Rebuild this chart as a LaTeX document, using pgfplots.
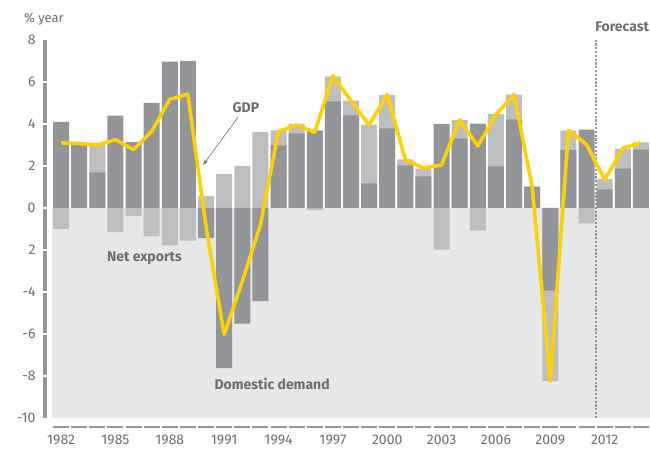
\documentclass[border=0pt]{standalone}
\usepackage{pgfplots}
\pgfplotsset{compat=1.18}
\usepackage{pgfplotstable}
\usepackage{fontspec}
\setmainfont{Fira Sans}
\usetikzlibrary{arrows.meta}
\definecolor{dd}{HTML}{939598}
\definecolor{nx}{HTML}{BCBEC0}
\definecolor{bg}{HTML}{E6E7E8}
\definecolor{gdp}{HTML}{FFD100}
\definecolor{txt}{HTML}{6D6E71}

% dd = domestic demand contribution, nxend = end of the net exports bar (stacked), gdp = GDP growth
\pgfplotstableread{
year dd nxend gdp
1982 4.10 -1.00 3.10
1983 3.02 3.02 3.07
1984 1.70 3.00 3.00
1985 4.40 -1.15 3.25
1986 3.14 -0.37 2.78
1987 5.00 -1.35 3.65
1988 6.97 -1.78 5.18
1989 7.00 -1.55 5.42
1990 -1.44 0.56 -0.88
1991 -7.63 1.62 -6.02
1992 -5.50 2.00 -3.50
1993 -4.44 3.63 -0.80
1994 2.98 3.70 3.65
1995 3.55 4.00 3.95
1996 3.70 -0.10 3.60
1997 5.08 6.27 6.30
1998 4.41 5.11 5.10
1999 1.17 3.97 3.95
2000 3.79 5.38 5.40
2001 2.03 2.32 2.30
2002 1.51 1.87 1.90
2003 4.00 -1.98 2.05
2004 3.32 4.19 4.20
2005 4.02 -1.08 2.95
2006 1.98 4.48 4.45
2007 4.22 5.40 5.40
2008 1.02 1.02 1.00
2009 -3.94 -8.24 -8.25
2010 2.75 3.68 3.70
2011 3.73 -0.73 3.02
2012 0.89 1.37 1.35
2013 1.87 2.83 2.85
2014 2.78 3.13 3.10
}\data

\begin{document}
\begin{tikzpicture}
\path[use as bounding box] (-52pt,-32pt) rectangle (598pt,418pt);
\begin{axis}[
  at={(0,0)}, anchor=south west,
  scale only axis, width=598pt, height=378pt,
  xmin=1981.5, xmax=2014.5, ymin=-10, ymax=8,
  clip=false,
  axis line style={draw=none},
  major tick length=0pt,
  xtick={1982,1985,1988,1991,1994,1997,2000,2003,2006,2009,2012},
  xticklabels={1982,1985,1988,1991,1994,1997,2000,2003,2006,2009,2012},
  ytick={-10,-8,-6,-4,-2,0,2,4,6,8},
  yticklabels={-10,-8,-6,-4,2,0,2,4,6,8},
  /pgf/number format/assume math mode=true,
  tick label style={font=\fontsize{14}{16}\selectfont, text=txt},
  yticklabel style={xshift=-13pt},
  xticklabel style={yshift=-13pt},
]
\fill[bg] (axis cs:1981.5,-10) rectangle (axis cs:2014.5,0);

\addplot[ybar, bar width=16pt, bar shift=0pt, fill=nx, draw=none] table[x=year,y=nxend] {\data};
\addplot[ybar, bar width=16pt, bar shift=0pt, fill=dd, draw=none] table[x=year,y=dd] {\data};

\draw[dd, line width=2pt, dash pattern=on 2.2pt off 1.6pt] (axis cs:2011.5,-10) -- (axis cs:2011.5,8);

\addplot[gdp, line width=3.6pt, no marks, line join=round] table[x=year,y=gdp] {\data};

% y axis bar with gaps
\draw[dd, line width=4.5pt] ([xshift=-7pt]axis cs:1981.5,-10) -- ([xshift=-7pt]axis cs:1981.5,8);
\draw[white, line width=2.5pt] ([xshift=-11pt]axis cs:1981.5,-8) -- ([xshift=-3pt]axis cs:1981.5,-8);
\draw[white, line width=2.5pt] ([xshift=-11pt]axis cs:1981.5,-6) -- ([xshift=-3pt]axis cs:1981.5,-6);
\draw[white, line width=2.5pt] ([xshift=-11pt]axis cs:1981.5,-4) -- ([xshift=-3pt]axis cs:1981.5,-4);
\draw[white, line width=2.5pt] ([xshift=-11pt]axis cs:1981.5,-2) -- ([xshift=-3pt]axis cs:1981.5,-2);
\draw[white, line width=2.5pt] ([xshift=-11pt]axis cs:1981.5,0) -- ([xshift=-3pt]axis cs:1981.5,0);
\draw[white, line width=2.5pt] ([xshift=-11pt]axis cs:1981.5,2) -- ([xshift=-3pt]axis cs:1981.5,2);
\draw[white, line width=2.5pt] ([xshift=-11pt]axis cs:1981.5,4) -- ([xshift=-3pt]axis cs:1981.5,4);
\draw[white, line width=2.5pt] ([xshift=-11pt]axis cs:1981.5,6) -- ([xshift=-3pt]axis cs:1981.5,6);

% dashed x axis
\draw[dd, line width=2.7pt, dash pattern=on 16pt off 2.1212pt] ([yshift=-9pt]axis cs:1981.5585,-10) -- ([yshift=-9pt]axis cs:2014.5,-10);

% annotations
\node[font=\fontsize{14}{16}\selectfont\bfseries, text=txt] at (axis cs:1992.2,4.8) {GDP};
\draw[-{Stealth[length=6pt,width=4pt]}, txt, line width=0.6pt] (axis cs:1991.77,4.33) -- (axis cs:1989.84,2.05);
\node[font=\fontsize{14}{16}\selectfont\bfseries, text=txt] at (axis cs:1986.6,-2.4) {Net exports};
\node[font=\fontsize{14}{16}\selectfont\bfseries, text=txt] at (axis cs:1993.65,-8.4) {Domestic demand};
\node[font=\fontsize{14}{16}\selectfont\bfseries, text=txt] at (axis cs:2012.96,8.62) {Forecast};
\node[font=\fontsize{13}{15}\selectfont, text=txt, anchor=west, inner sep=0pt] at (axis cs:1979.95,9.0) {\% year};
\end{axis}
\end{tikzpicture}
\end{document}
